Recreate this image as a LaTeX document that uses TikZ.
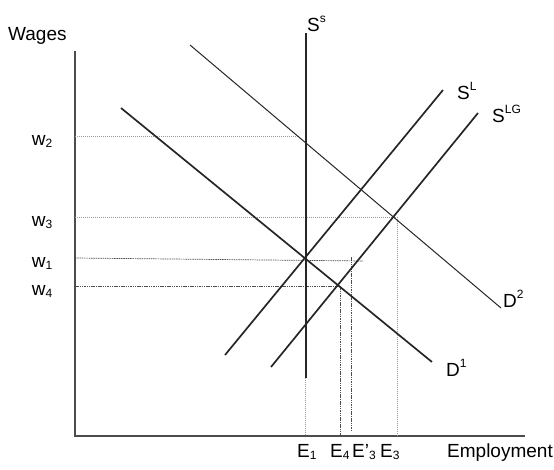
\documentclass[tikz,border=0pt]{standalone}
\usepackage{fontspec}
\setmainfont{Liberation Sans}
\usetikzlibrary{positioning}
\tikzset{
  axisline/.style={draw=black!70,line width=1.1pt},
  curve/.style={draw=black!85,line width=1.7pt},
  thincurve/.style={draw=black!85,line width=1pt},
  guide/.style={draw=black!40,line width=0.7pt,dash pattern=on 1.2pt off 0.8pt},
  guidedark/.style={draw=black!70,line width=0.7pt,dash pattern=on 1.5pt off 0.8pt},
  lbl/.style={inner sep=0pt,anchor=base west,font=\fontsize{19}{22}\selectfont}
}
\newcommand{\wsup}[1]{\raisebox{9pt}{\fontsize{12}{12}\selectfont #1}}
\newcommand{\wsub}[1]{\raisebox{-2.5pt}{\fontsize{12}{12}\selectfont #1}}

\begin{document}
\begin{tikzpicture}[x=1pt,y=-1pt]
\useasboundingbox (0,0) rectangle (554,469);

% axes
\coordinate (ytop) at (75,51);
\coordinate (o)    at (75,436);
\coordinate (xend) at (525,436);
\draw[axisline] (ytop) -- (o) -- (xend);

% wage levels on the axis
\coordinate (w2ax) at (75,136);
\coordinate (w3ax) at (75,217);
\coordinate (w1ax) at (75,258);
\coordinate (w4ax) at (75,286.5);

% end points of the curves
\coordinate (d1a)  at (121,108);
\coordinate (d1b)  at (432,362);
\coordinate (d2a)  at (190,45);
\coordinate (d2b)  at (501,308);
\coordinate (sla)  at (225,355);
\coordinate (slb)  at (443,90);
\coordinate (slga) at (271,367);
\coordinate (slgb) at (478,113);
\coordinate (ssa)  at (305.7,33);
\coordinate (ssb)  at (305.7,378);

% points the guides run to
\coordinate (w2pt)  at (298,136);
\coordinate (w3pt)  at (397.5,217);
\coordinate (w1pt)  at (363,261);
\coordinate (w4pt)  at (340,286.5);
\coordinate (e3top) at (351.3,257);
\coordinate (e1ax)  at (305.7,436);
\coordinate (e4ax)  at (340,436);
\coordinate (e3pax) at (351.3,430);
\coordinate (e3ax)  at (397.5,436);

% guides
\draw[guide] (w2ax) -- (w2pt);
\draw[guide] (w3ax) -- (w3pt) -- (e3ax);
\draw[guidedark] (w1ax) -- (w1pt);
\draw[guidedark] (e3top) -- (e3pax);
\draw[guidedark] (w4ax) -- (w4pt) -- (e4ax);
\draw[guide] (ssb) -- (e1ax);

% curves
\draw[thincurve] (d2a) -- (d2b);
\draw[curve] (d1a) -- (d1b);
\draw[curve] (sla) -- (slb);
\draw[curve] (slga) -- (slgb);
\draw[curve] (ssa) -- (ssb);

% labels
\node[lbl] (wages) at (8,40.5) {Wages};
\node[lbl] (w2) at (31.7,145) {w\wsub{2}};
\node[lbl] (w3) at (31.7,226) {w\wsub{3}};
\node[lbl] (w1) at (31.7,267) {w\wsub{1}};
\node[lbl] (w4) at (31.7,295) {w\wsub{4}};
\node[lbl] (e1) at (297,457) {E\wsub{1}};
\node[lbl] (e4) at (330,457) {E\wsub{4}};
\node[lbl] (e3p) at (352,457) {E’\wsub{3}};
\node[lbl] (e3) at (380,457) {E\wsub{3}};
\node[lbl] (empl) at (447,457) {Employment};
\node[lbl] (ss) at (307,31) {S\wsup{s}};
\node[lbl] (sl) at (457,99) {S\wsup{L}};
\node[lbl] (slg) at (492,122) {S\wsup{LG}};
\node[lbl] (d2) at (503,307) {D\wsup{2}};
\node[lbl] (d1) at (446,376) {D\wsup{1}};
\end{tikzpicture}
\end{document}
